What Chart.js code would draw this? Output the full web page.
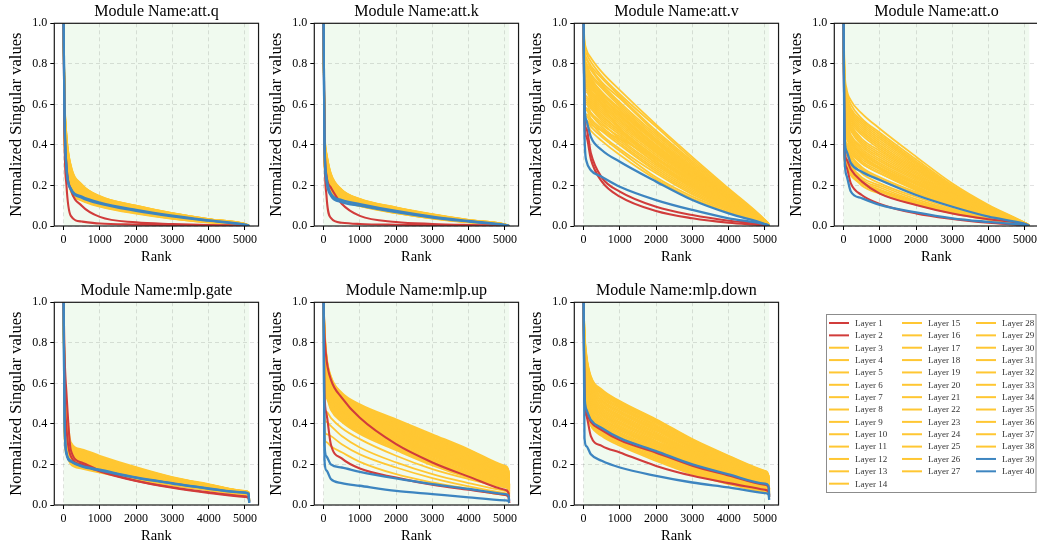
<!DOCTYPE html>
<html><head><meta charset="utf-8">
<script src="https://cdn.jsdelivr.net/npm/chart.js@4.4.0/dist/chart.umd.min.js"></script>
<style>
html,body{margin:0;padding:0;background:#fff;overflow:hidden;width:1037px;height:545px;}
canvas{position:absolute;}
</style></head><body>
<script>
// ---------------- data ----------------
const RANKS = [0, 25, 80, 200, 500, 1000, 2000, 3000, 4000, 5000, 5100, 5119];
const X_TICKS = [0, 1000, 2000, 3000, 4000, 5000];
const Y_TICKS = [0, 0.2, 0.4, 0.6, 0.8, 1.0];
const SPAN = [0, 5120];
const MODULE_NAMES = ['att.q', 'att.k', 'att.v', 'att.o', 'mlp.gate', 'mlp.up', 'mlp.down'];
const LAYER_LABELS = Array.from({length: 40}, (_, i) => 'Layer ' + (i + 1));

// att.q
const ATT_Q_RED = [
 [1,.45,.2,.05,.022,.012,.007,.004,.002,.001,0,0],
 [1,.55,.3,.18,.1,.045,.018,.01,.005,.002,.001,0]];
const ATT_Q_BLUE = [
 [1,.55,.28,.18,.14,.11,.075,.048,.026,.006,.002,0],
 [1,.57,.29,.185,.145,.115,.079,.051,.028,.007,.002,0]];
const ATT_Q_YELLOW = [
 [1,.42,.27,.17,.125,.096,.061,.035,.017,.004,.002,0],
 [1,.44,.28,.175,.128,.098,.063,.037,.018,.004,.002,0],
 [1,.45,.29,.18,.13,.1,.065,.038,.019,.005,.002,0],
 [1,.47,.30,.185,.133,.102,.066,.039,.02,.005,.002,0],
 [1,.48,.31,.19,.136,.104,.068,.04,.021,.005,.002,0],
 [1,.49,.31,.195,.14,.106,.069,.041,.021,.005,.002,0],
 [1,.5,.32,.2,.143,.108,.071,.042,.022,.006,.002,0],
 [1,.51,.33,.205,.146,.11,.072,.043,.023,.006,.002,0],
 [1,.52,.33,.21,.149,.112,.074,.044,.023,.006,.002,0],
 [1,.53,.34,.213,.152,.114,.075,.045,.024,.006,.002,0],
 [1,.54,.35,.217,.155,.116,.077,.046,.025,.006,.002,0],
 [1,.55,.35,.22,.158,.118,.078,.047,.025,.007,.002,0],
 [1,.55,.36,.224,.16,.12,.08,.048,.026,.007,.002,0],
 [1,.56,.36,.228,.163,.122,.081,.049,.026,.007,.002,0],
 [1,.57,.37,.232,.166,.124,.083,.05,.027,.007,.002,0],
 [1,.57,.37,.236,.169,.126,.084,.051,.027,.007,.002,0],
 [1,.58,.38,.24,.172,.128,.086,.052,.028,.008,.002,0],
 [1,.59,.38,.244,.175,.13,.087,.053,.028,.008,.002,0],
 [1,.59,.39,.248,.177,.131,.088,.054,.029,.008,.002,0],
 [1,.6,.39,.252,.18,.133,.089,.055,.029,.008,.002,0],
 [1,.6,.4,.256,.182,.135,.09,.056,.03,.008,.002,0],
 [1,.61,.4,.26,.185,.136,.091,.057,.03,.008,.002,0],
 [1,.61,.41,.264,.187,.138,.092,.058,.031,.009,.002,0],
 [1,.62,.41,.268,.19,.139,.093,.058,.031,.009,.002,0],
 [1,.62,.42,.272,.192,.14,.094,.059,.032,.009,.002,0],
 [1,.63,.42,.276,.194,.141,.095,.06,.032,.009,.002,0],
 [1,.63,.43,.28,.196,.142,.096,.06,.032,.009,.002,0],
 [1,.64,.43,.284,.198,.143,.097,.061,.033,.009,.002,0],
 [1,.64,.44,.288,.2,.144,.098,.062,.033,.01,.002,0],
 [1,.65,.44,.292,.202,.145,.099,.062,.034,.01,.002,0],
 [1,.65,.45,.296,.204,.146,.1,.063,.034,.01,.002,0],
 [1,.66,.45,.3,.206,.148,.1,.063,.034,.01,.002,0],
 [1,.5,.36,.25,.17,.115,.07,.04,.02,.005,.002,0],
 [1,.58,.34,.21,.16,.125,.085,.052,.027,.007,.002,0],
 [1,.47,.33,.235,.175,.13,.08,.045,.022,.006,.002,0],
 [1,.62,.38,.23,.15,.105,.07,.043,.022,.006,.002,0]];

// att.k
const ATT_K_RED = [
 [1,.4,.15,.04,.016,.01,.006,.004,.002,.001,0,0],
 [1,.45,.25,.19,.11,.05,.02,.01,.005,.002,.001,0]];
const ATT_K_BLUE = [
 [1,.42,.24,.16,.128,.108,.074,.046,.025,.005,.001,0],
 [1,.4,.22,.15,.118,.1,.068,.042,.022,.004,.001,0]];
const ATT_K_YELLOW = [
 [1,.30,.24,.16,.125,.098,.063,.037,.018,.004,.001,0],
 [1,.31,.244,.163,.127,.099,.064,.038,.018,.004,.001,0],
 [1,.31,.247,.166,.128,.1,.065,.038,.019,.004,.001,0],
 [1,.32,.252,.17,.131,.102,.066,.039,.019,.004,.001,0],
 [1,.33,.256,.173,.132,.103,.067,.04,.02,.005,.001,0],
 [1,.33,.259,.176,.134,.104,.068,.04,.02,.005,.001,0],
 [1,.34,.263,.179,.135,.105,.069,.041,.02,.005,.001,0],
 [1,.35,.268,.183,.138,.106,.07,.042,.021,.005,.001,0],
 [1,.35,.271,.186,.139,.107,.071,.042,.021,.005,.001,0],
 [1,.36,.275,.189,.141,.108,.071,.043,.021,.005,.001,0],
 [1,.36,.278,.192,.143,.11,.072,.044,.022,.005,.001,0],
 [1,.37,.282,.195,.144,.111,.073,.044,.022,.005,.001,0],
 [1,.38,.287,.199,.146,.112,.074,.045,.023,.006,.001,0],
 [1,.38,.29,.202,.148,.113,.075,.046,.023,.006,.001,0],
 [1,.39,.294,.205,.15,.114,.076,.046,.023,.006,.001,0],
 [1,.4,.298,.208,.151,.115,.077,.047,.024,.006,.001,0],
 [1,.4,.302,.212,.154,.117,.078,.048,.024,.006,.001,0],
 [1,.41,.306,.215,.155,.118,.079,.049,.025,.006,.001,0],
 [1,.42,.31,.218,.157,.119,.08,.049,.025,.006,.001,0],
 [1,.42,.313,.221,.159,.12,.081,.05,.025,.006,.001,0],
 [1,.43,.318,.225,.161,.121,.082,.051,.026,.007,.001,0],
 [1,.44,.322,.228,.162,.122,.083,.051,.026,.007,.001,0],
 [1,.44,.325,.231,.164,.124,.084,.052,.027,.007,.001,0],
 [1,.45,.329,.234,.166,.125,.084,.053,.027,.007,.001,0],
 [1,.45,.332,.237,.167,.126,.085,.053,.027,.007,.001,0],
 [1,.46,.337,.241,.17,.127,.086,.054,.028,.007,.001,0],
 [1,.47,.341,.244,.171,.128,.087,.055,.028,.007,.001,0],
 [1,.47,.344,.247,.173,.129,.088,.055,.028,.007,.001,0],
 [1,.48,.348,.25,.175,.13,.089,.056,.029,.008,.001,0],
 [1,.49,.353,.254,.177,.132,.09,.057,.029,.008,.001,0],
 [1,.49,.356,.257,.178,.133,.091,.057,.03,.008,.001,0],
 [1,.5,.36,.26,.18,.134,.092,.058,.03,.008,.001,0],
 [1,.36,.3,.22,.14,.104,.068,.041,.02,.005,.001,0],
 [1,.44,.28,.18,.14,.115,.08,.05,.026,.006,.001,0],
 [1,.33,.27,.2,.16,.125,.083,.05,.025,.006,.001,0],
 [1,.46,.31,.2,.15,.108,.07,.043,.022,.005,.001,0]];

// att.v
const ATT_V_RED = [
 [1,.53,.48,.36,.24,.17,.095,.054,.026,.007,.002,0],
 [1,.5,.44,.33,.22,.145,.074,.038,.016,.003,.001,0]];
const ATT_V_BLUE = [
 [1,.6,.52,.44,.375,.317,.219,.128,.062,.01,.003,0],
 [1,.45,.32,.275,.243,.194,.128,.079,.038,.008,.002,0]];
const ATT_V_YELLOW = [
 [1,.5,.5,.47,.42,.35,.23,.135,.068,.01,.004,0],
 [1,.52,.52,.49,.44,.37,.24,.145,.074,.011,.004,0],
 [1,.54,.54,.51,.45,.38,.26,.156,.08,.012,.004,0],
 [1,.56,.55,.52,.47,.4,.27,.164,.084,.013,.004,0],
 [1,.57,.57,.53,.48,.41,.28,.172,.089,.014,.005,0],
 [1,.59,.58,.55,.49,.42,.29,.18,.094,.014,.005,0],
 [1,.61,.6,.56,.51,.43,.3,.188,.098,.015,.005,0],
 [1,.62,.61,.58,.52,.45,.31,.197,.103,.016,.005,0],
 [1,.64,.62,.59,.53,.46,.32,.203,.107,.017,.005,0],
 [1,.65,.63,.6,.54,.47,.33,.209,.11,.017,.005,0],
 [1,.66,.64,.61,.55,.47,.335,.215,.114,.018,.006,0],
 [1,.67,.66,.62,.56,.48,.34,.221,.117,.018,.006,0],
 [1,.68,.67,.63,.57,.49,.35,.227,.121,.019,.006,0],
 [1,.7,.68,.64,.58,.5,.36,.233,.124,.02,.006,0],
 [1,.71,.69,.65,.59,.51,.365,.238,.127,.02,.006,0],
 [1,.71,.69,.66,.6,.52,.37,.242,.129,.02,.006,0],
 [1,.72,.7,.66,.6,.52,.376,.246,.131,.021,.006,0],
 [1,.73,.71,.67,.61,.53,.38,.25,.134,.021,.007,0],
 [1,.74,.71,.68,.62,.54,.387,.254,.136,.022,.007,0],
 [1,.75,.72,.69,.62,.54,.39,.258,.138,.022,.007,0],
 [1,.75,.73,.69,.63,.55,.397,.262,.141,.022,.007,0],
 [1,.76,.74,.7,.64,.55,.4,.266,.143,.023,.007,0],
 [1,.77,.74,.71,.64,.56,.41,.27,.145,.023,.007,0],
 [1,.78,.75,.71,.65,.57,.414,.274,.148,.024,.007,0],
 [1,.79,.76,.72,.66,.57,.42,.279,.15,.024,.007,0],
 [1,.8,.77,.73,.66,.58,.424,.283,.152,.024,.008,0],
 [1,.81,.78,.74,.68,.59,.43,.289,.156,.025,.008,0],
 [1,.82,.79,.75,.69,.6,.44,.295,.159,.026,.008,0],
 [1,.84,.8,.77,.7,.61,.45,.303,.164,.026,.008,0],
 [1,.85,.82,.78,.71,.63,.46,.311,.169,.027,.008,0],
 [1,.87,.83,.79,.73,.64,.47,.32,.173,.028,.009,0],
 [1,.89,.85,.81,.74,.65,.49,.33,.179,.029,.009,0],
 [1,.92,.87,.83,.76,.67,.5,.34,.185,.03,.009,0],
 [1,.55,.52,.5,.47,.43,.33,.23,.13,.02,.006,0],
 [1,.85,.8,.72,.6,.48,.32,.2,.1,.015,.005,0],
 [1,.6,.58,.55,.5,.44,.31,.19,.095,.015,.005,0]];

// att.o
const ATT_O_RED = [
 [1,.4,.33,.28,.22,.16,.104,.062,.033,.01,.003,0],
 [1,.36,.29,.21,.153,.109,.062,.035,.016,.003,.001,0]];
const ATT_O_BLUE = [
 [1,.45,.37,.31,.268,.227,.153,.095,.046,.01,.003,0],
 [1,.35,.25,.17,.137,.104,.067,.038,.02,.005,.002,0]];
const ATT_O_YELLOW = [
 [1,.32,.3,.26,.2,.16,.105,.062,.03,.005,.002,0],
 [1,.34,.32,.27,.21,.17,.11,.068,.033,.005,.002,0],
 [1,.36,.33,.29,.23,.19,.124,.074,.036,.006,.002,0],
 [1,.38,.35,.3,.24,.2,.133,.08,.039,.006,.002,0],
 [1,.39,.36,.32,.26,.21,.143,.086,.042,.007,.002,0],
 [1,.42,.38,.34,.28,.23,.157,.095,.046,.007,.002,0],
 [1,.44,.4,.35,.29,.24,.167,.1,.049,.008,.003,0],
 [1,.46,.41,.37,.31,.26,.176,.106,.052,.008,.003,0],
 [1,.47,.43,.38,.32,.27,.183,.111,.054,.009,.003,0],
 [1,.49,.44,.39,.33,.28,.19,.115,.057,.009,.003,0],
 [1,.5,.45,.4,.34,.285,.197,.12,.059,.009,.003,0],
 [1,.51,.46,.41,.35,.29,.205,.124,.061,.01,.003,0],
 [1,.53,.47,.42,.36,.3,.212,.129,.063,.01,.003,0],
 [1,.54,.48,.43,.37,.31,.219,.133,.066,.01,.003,0],
 [1,.55,.49,.44,.38,.32,.226,.137,.068,.011,.003,0],
 [1,.57,.51,.45,.39,.33,.233,.142,.07,.011,.003,0],
 [1,.58,.52,.47,.4,.34,.24,.146,.072,.011,.003,0],
 [1,.6,.53,.48,.41,.35,.247,.151,.074,.012,.004,0],
 [1,.61,.54,.49,.42,.36,.254,.155,.077,.012,.004,0],
 [1,.62,.55,.5,.43,.37,.261,.16,.079,.012,.004,0],
 [1,.64,.56,.51,.45,.38,.269,.164,.081,.013,.004,0],
 [1,.65,.57,.52,.46,.39,.276,.169,.083,.013,.004,0],
 [1,.67,.59,.53,.47,.4,.283,.173,.086,.013,.004,0],
 [1,.68,.6,.54,.48,.41,.29,.177,.088,.014,.004,0],
 [1,.69,.61,.55,.49,.42,.297,.182,.09,.014,.004,0],
 [1,.71,.62,.56,.5,.43,.304,.186,.092,.014,.004,0],
 [1,.72,.63,.57,.51,.44,.311,.191,.094,.015,.005,0],
 [1,.73,.64,.58,.52,.45,.318,.195,.097,.015,.005,0],
 [1,.75,.66,.6,.53,.46,.328,.201,.1,.015,.005,0],
 [1,.78,.68,.62,.556,.48,.342,.21,.104,.016,.005,0],
 [1,.34,.3,.25,.21,.175,.115,.07,.034,.006,.002,0],
 [1,.36,.31,.27,.22,.18,.12,.072,.035,.006,.002,0],
 [1,.5,.4,.33,.28,.23,.16,.1,.05,.008,.003,0],
 [1,.6,.5,.42,.36,.3,.21,.13,.065,.01,.003,0],
 [1,.45,.4,.36,.31,.26,.18,.11,.055,.009,.003,0],
 [1,.55,.48,.42,.35,.28,.19,.115,.056,.009,.003,0]];

// mlp.gate
const MLP_GATE_RED = [
 [1,.75,.55,.27,.21,.17,.12,.088,.063,.043,.037,.02],
 [1,.6,.38,.24,.2,.165,.118,.085,.06,.04,.034,.015]];
const MLP_GATE_BLUE = [
 [1,.45,.26,.218,.193,.174,.136,.108,.082,.062,.056,.012],
 [1,.43,.25,.214,.19,.171,.134,.106,.08,.06,.054,.01]];
const MLP_GATE_YELLOW = [
 [1,.35,.25,.2,.18,.16,.125,.097,.074,.052,.046,.015],
 [1,.36,.26,.204,.184,.163,.127,.099,.075,.053,.047,.016],
 [1,.38,.27,.209,.188,.167,.13,.1,.076,.053,.047,.016],
 [1,.39,.27,.213,.191,.17,.132,.102,.077,.054,.048,.017],
 [1,.4,.28,.218,.195,.173,.135,.104,.079,.055,.049,.017],
 [1,.42,.29,.224,.201,.178,.139,.106,.08,.056,.05,.018],
 [1,.44,.3,.229,.205,.182,.141,.108,.082,.057,.051,.019],
 [1,.45,.31,.233,.209,.185,.144,.109,.083,.057,.051,.019],
 [1,.46,.32,.236,.211,.187,.145,.111,.084,.058,.052,.02],
 [1,.47,.32,.24,.214,.19,.147,.112,.084,.058,.052,.02],
 [1,.48,.33,.243,.217,.192,.149,.113,.085,.059,.053,.021],
 [1,.49,.33,.246,.22,.195,.151,.114,.086,.06,.054,.021],
 [1,.5,.34,.25,.223,.197,.153,.115,.087,.06,.054,.022],
 [1,.51,.35,.253,.226,.2,.155,.117,.088,.061,.055,.022],
 [1,.52,.35,.256,.228,.202,.157,.118,.089,.061,.055,.023],
 [1,.53,.36,.259,.231,.205,.158,.119,.09,.062,.056,.023],
 [1,.54,.36,.263,.234,.207,.16,.12,.091,.062,.056,.024],
 [1,.55,.37,.266,.237,.21,.162,.122,.091,.063,.057,.024],
 [1,.56,.38,.269,.24,.212,.164,.123,.092,.063,.057,.024],
 [1,.57,.38,.273,.243,.215,.166,.124,.093,.064,.058,.025],
 [1,.58,.39,.276,.246,.217,.168,.125,.094,.064,.058,.025],
 [1,.59,.39,.279,.248,.22,.17,.127,.095,.065,.059,.026],
 [1,.6,.4,.283,.251,.222,.172,.128,.096,.066,.06,.026],
 [1,.61,.41,.286,.254,.225,.173,.129,.097,.066,.06,.027],
 [1,.62,.41,.289,.257,.227,.175,.13,.097,.067,.061,.027],
 [1,.63,.42,.292,.26,.23,.177,.131,.098,.067,.061,.028],
 [1,.64,.42,.296,.263,.232,.179,.133,.099,.068,.062,.028],
 [1,.65,.43,.299,.266,.235,.181,.134,.1,.068,.062,.029],
 [1,.66,.44,.303,.269,.238,.183,.136,.101,.069,.063,.029],
 [1,.68,.5,.31,.275,.243,.187,.138,.103,.07,.064,.03],
 [1,.55,.3,.22,.2,.175,.135,.1,.077,.053,.047,.016],
 [1,.4,.3,.26,.235,.205,.16,.12,.09,.062,.056,.022],
 [1,.6,.38,.25,.22,.19,.145,.11,.082,.057,.051,.018],
 [1,.45,.33,.27,.25,.225,.18,.135,.1,.068,.062,.025],
 [1,.5,.28,.21,.19,.17,.13,.098,.074,.052,.046,.015],
 [1,.62,.4,.29,.26,.23,.17,.125,.093,.064,.058,.02]];

// mlp.up
const MLP_UP_RED = [
 [1,.85,.72,.62,.53,.43,.3,.21,.14,.075,.06,.01],
 [1,.55,.45,.3,.23,.18,.135,.1,.075,.05,.04,.01]];
const MLP_UP_BLUE = [
 [1,.3,.24,.2,.185,.164,.131,.103,.079,.054,.046,.02],
 [1,.22,.17,.128,.108,.095,.07,.054,.038,.023,.019,.01]];
const MLP_UP_YELLOW = [
 [1,.58,.53,.47,.41,.35,.27,.195,.135,.09,.076,.04],
 [1,.59,.54,.477,.416,.356,.276,.201,.141,.094,.08,.042],
 [1,.6,.55,.483,.422,.362,.282,.207,.146,.098,.083,.045],
 [1,.62,.56,.49,.427,.368,.288,.213,.152,.102,.087,.047],
 [1,.63,.56,.497,.433,.374,.294,.22,.157,.106,.09,.05],
 [1,.64,.57,.503,.439,.379,.301,.226,.163,.111,.095,.052],
 [1,.65,.58,.51,.445,.385,.307,.232,.169,.115,.099,.054],
 [1,.66,.59,.516,.45,.391,.313,.238,.174,.119,.102,.057],
 [1,.67,.6,.521,.455,.396,.317,.243,.178,.122,.105,.059],
 [1,.68,.6,.526,.459,.4,.322,.247,.183,.125,.108,.06],
 [1,.69,.61,.531,.463,.404,.327,.252,.187,.128,.11,.062],
 [1,.7,.61,.536,.468,.409,.331,.257,.191,.131,.113,.064],
 [1,.71,.62,.541,.472,.413,.336,.261,.195,.134,.116,.066],
 [1,.72,.63,.546,.476,.418,.34,.266,.199,.137,.119,.068],
 [1,.73,.63,.551,.481,.422,.345,.27,.204,.14,.121,.069],
 [1,.74,.64,.556,.485,.426,.35,.275,.208,.144,.125,.071],
 [1,.75,.65,.561,.489,.431,.354,.28,.212,.147,.128,.073],
 [1,.75,.65,.566,.494,.435,.359,.284,.216,.15,.13,.075],
 [1,.76,.66,.571,.498,.44,.363,.289,.22,.153,.133,.077],
 [1,.77,.66,.576,.502,.444,.368,.294,.225,.156,.136,.078],
 [1,.78,.67,.581,.506,.448,.373,.298,.229,.159,.139,.08],
 [1,.79,.68,.586,.511,.453,.377,.303,.233,.162,.141,.082],
 [1,.8,.68,.591,.515,.457,.382,.307,.237,.165,.144,.084],
 [1,.81,.69,.596,.519,.462,.386,.312,.241,.168,.147,.086],
 [1,.82,.7,.601,.524,.466,.391,.317,.246,.171,.15,.087],
 [1,.83,.7,.606,.528,.471,.395,.321,.25,.174,.152,.089],
 [1,.84,.71,.611,.532,.475,.4,.326,.254,.178,.156,.091],
 [1,.84,.71,.616,.537,.479,.405,.331,.258,.181,.159,.093],
 [1,.85,.72,.621,.541,.484,.409,.335,.262,.184,.162,.095],
 [1,.86,.73,.626,.545,.488,.414,.34,.267,.187,.165,.096],
 [1,.87,.73,.631,.55,.493,.418,.344,.271,.19,.168,.098],
 [1,.88,.74,.636,.554,.497,.423,.349,.275,.193,.17,.1],
 [1,.48,.46,.43,.38,.325,.243,.177,.128,.087,.074,.04],
 [1,.43,.41,.39,.34,.284,.21,.152,.108,.07,.06,.035],
 [1,.37,.35,.34,.3,.25,.185,.133,.092,.059,.05,.03],
 [1,.34,.31,.29,.26,.213,.152,.111,.079,.049,.042,.025]];

// mlp.down
const MLP_DOWN_RED = [
 [1,.52,.44,.34,.292,.259,.193,.144,.108,.075,.066,.05],
 [1,.54,.46,.41,.37,.32,.258,.194,.146,.1,.088,.04]];
const MLP_DOWN_BLUE = [
 [1,.55,.47,.42,.38,.33,.266,.2,.151,.105,.095,.04],
 [1,.33,.29,.25,.218,.185,.144,.111,.087,.059,.052,.025]];
const MLP_DOWN_YELLOW = [
 [1,.5,.45,.39,.34,.292,.218,.152,.103,.062,.053,.03],
 [1,.51,.46,.397,.347,.299,.224,.157,.107,.065,.056,.032],
 [1,.52,.47,.405,.354,.305,.23,.162,.111,.068,.058,.033],
 [1,.53,.48,.412,.361,.312,.236,.168,.116,.072,.062,.035],
 [1,.54,.48,.42,.368,.319,.243,.173,.12,.075,.064,.036],
 [1,.55,.49,.427,.375,.325,.249,.178,.124,.078,.067,.038],
 [1,.56,.5,.434,.381,.332,.255,.183,.128,.081,.07,.039],
 [1,.58,.51,.442,.388,.338,.261,.188,.132,.084,.072,.041],
 [1,.59,.52,.449,.395,.345,.267,.194,.137,.088,.076,.042],
 [1,.6,.53,.456,.402,.352,.273,.199,.141,.091,.078,.044],
 [1,.61,.54,.464,.409,.358,.28,.204,.145,.094,.081,.045],
 [1,.62,.55,.471,.416,.365,.286,.209,.149,.097,.084,.047],
 [1,.63,.55,.479,.423,.372,.292,.214,.153,.1,.086,.048],
 [1,.64,.56,.486,.43,.378,.298,.219,.158,.104,.09,.05],
 [1,.65,.57,.493,.437,.385,.304,.225,.162,.107,.092,.051],
 [1,.66,.58,.501,.444,.391,.31,.23,.166,.11,.095,.053],
 [1,.67,.59,.508,.45,.398,.316,.235,.17,.113,.097,.054],
 [1,.68,.6,.515,.457,.405,.323,.24,.174,.117,.101,.056],
 [1,.69,.61,.523,.464,.411,.329,.245,.179,.12,.104,.057],
 [1,.71,.62,.53,.471,.418,.335,.251,.183,.123,.106,.059],
 [1,.72,.62,.538,.478,.425,.341,.256,.187,.126,.109,.06],
 [1,.73,.63,.545,.485,.431,.347,.261,.191,.129,.111,.062],
 [1,.74,.64,.552,.492,.438,.353,.266,.195,.133,.115,.063],
 [1,.75,.65,.56,.499,.444,.359,.271,.2,.136,.117,.065],
 [1,.76,.66,.567,.506,.451,.366,.277,.204,.139,.12,.066],
 [1,.77,.67,.575,.513,.458,.372,.282,.208,.142,.123,.068],
 [1,.78,.68,.582,.519,.464,.378,.287,.212,.145,.125,.069],
 [1,.79,.68,.589,.526,.471,.384,.292,.216,.149,.129,.071],
 [1,.8,.69,.597,.533,.478,.39,.297,.221,.152,.131,.072],
 [1,.81,.7,.604,.54,.484,.396,.303,.225,.155,.134,.074],
 [1,.82,.71,.611,.547,.491,.403,.308,.229,.158,.137,.075],
 [1,.83,.72,.616,.552,.495,.407,.311,.232,.16,.138,.076],
 [1,.84,.72,.621,.556,.5,.411,.315,.235,.163,.141,.077],
 [1,.85,.73,.626,.561,.504,.415,.318,.237,.165,.143,.078],
 [1,.85,.73,.631,.565,.509,.419,.322,.24,.167,.145,.079],
 [1,.86,.74,.636,.57,.513,.423,.325,.243,.169,.146,.08]];

// ---------------- styling ----------------
const SERIF = "'Liberation Serif','Times New Roman',serif";
const RED = '#d13c3b';
const YELLOW = '#ffc733';
const BLUE = '#3d85c0';
const GREEN_BG = 'rgb(240,250,239)';
const GRID = 'rgba(0,0,0,0.13)';

Chart.defaults.font.family = SERIF;
Chart.defaults.color = '#000';

const MODULES = [
  [ATT_Q_RED, ATT_Q_YELLOW, ATT_Q_BLUE],
  [ATT_K_RED, ATT_K_YELLOW, ATT_K_BLUE],
  [ATT_V_RED, ATT_V_YELLOW, ATT_V_BLUE],
  [ATT_O_RED, ATT_O_YELLOW, ATT_O_BLUE],
  [MLP_GATE_RED, MLP_GATE_YELLOW, MLP_GATE_BLUE],
  [MLP_UP_RED, MLP_UP_YELLOW, MLP_UP_BLUE],
  [MLP_DOWN_RED, MLP_DOWN_YELLOW, MLP_DOWN_BLUE]
];

const panelPlugin = {
  id: 'panel',
  beforeDraw(chart) {
    const {ctx, chartArea: a, scales: {x}} = chart;
    const x0 = x.getPixelForValue(SPAN[0]), x1 = x.getPixelForValue(SPAN[1]);
    ctx.save();
    ctx.fillStyle = GREEN_BG;
    ctx.fillRect(x0, a.top, x1 - x0, a.bottom - a.top);
    ctx.restore();
  },
  afterDraw(chart) {
    const {ctx, chartArea: a} = chart;
    ctx.save();
    ctx.strokeStyle = '#1a1a1a';
    ctx.lineWidth = 1.2;
    ctx.strokeRect(a.left, a.top, a.right - a.left, a.bottom - a.top);
    ctx.restore();
  }
};

function makeDatasets(red, yellow, blue) {
  const rows = [];
  red.forEach(r => rows.push({row: r, color: RED, w: 2.1, order: 2}));
  yellow.forEach(r => rows.push({row: r, color: YELLOW, w: 1.8, order: 3}));
  blue.forEach(r => rows.push({row: r, color: BLUE, w: 2.3, order: 1}));
  return rows.map((d, i) => ({
    label: LAYER_LABELS[i],
    data: RANKS.map((rk, j) => ({x: rk, y: d.row[j]})),
    borderColor: d.color,
    backgroundColor: d.color,
    borderWidth: d.w,
    pointRadius: 0,
    fill: false,
    cubicInterpolationMode: 'monotone',
    order: d.order
  }));
}

const ROW_TOP = [0, 279.4];
MODULE_NAMES.forEach((name, k) => {
  const col = k % 4, row = Math.floor(k / 4);
  const cv = document.createElement('canvas');
  cv.width = 260; cv.height = 266;
  cv.style.left = (col * 260) + 'px';
  cv.style.top = ROW_TOP[row] + 'px';
  cv.style.width = '260px'; cv.style.height = '266px';
  document.body.appendChild(cv);
  const [red, yellow, blue] = MODULES[k];
  new Chart(cv, {
    type: 'line',
    data: {datasets: makeDatasets(red, yellow, blue)},
    plugins: [panelPlugin],
    options: {
      responsive: false, animation: false, devicePixelRatio: 1,
      layout: {padding: {left: 6.8, right: 0.7, top: 0, bottom: 0}},
      plugins: {
        legend: {display: false},
        tooltip: {enabled: false},
        title: {display: true, fullSize: false, text: 'Module Name:' + name, color: '#000',
          font: {family: SERIF, size: 16, weight: 'normal'}, padding: {top: 2, bottom: 2.1}}
      },
      scales: {
        x: {
          type: 'linear', min: -256, max: 5376,
          afterBuildTicks: s => { s.ticks = X_TICKS.map(v => ({value: v})); },
          afterFit: s => { s.height = 40; },
          ticks: {color: '#000', font: {family: SERIF, size: 12}, padding: 3, maxRotation: 0, autoSkip: false,
            callback: v => String(v)},
          grid: {color: GRID, lineWidth: 0.9, tickLength: 4, tickColor: '#000', tickWidth: 1, tickBorderDash: []},
          border: {display: false, dash: [4, 3]},
          title: {display: true, text: 'Rank', color: '#000', font: {family: SERIF, size: 14.5}, padding: 0}
        },
        y: {
          type: 'linear', min: 0, max: 1,
          afterBuildTicks: s => { s.ticks = Y_TICKS.map(v => ({value: v})); },
          afterFit: s => { s.width = 47.5; },
          ticks: {color: '#000', font: {family: SERIF, size: 12}, padding: 3, autoSkip: false,
            callback: v => Number(v).toFixed(1)},
          grid: {color: GRID, lineWidth: 0.9, tickLength: 4, tickColor: '#000', tickWidth: 1, tickBorderDash: []},
          border: {display: false, dash: [4, 3]},
          title: {display: true, text: 'Normalized Singular values', color: '#000', font: {family: SERIF, size: 16.5}, padding: 0}
        }
      }
    }
  });
});

// ---------------- legend ----------------
const LEGEND_COLS = [14, 13, 13];
const legendPlugin = {
  id: 'layerLegend',
  afterDraw(chart) {
    const ctx = chart.ctx;
    const ds = chart.data.datasets;
    ctx.save();
    ctx.fillStyle = '#fff';
    ctx.fillRect(6, 9.3, 210, 178.4);
    ctx.strokeStyle = '#8c8c8c';
    ctx.lineWidth = 1;
    ctx.strokeRect(6.5, 9.5, 209.5, 178);
    ctx.font = "9px " + SERIF;
    ctx.textBaseline = 'middle';
    ctx.textAlign = 'left';
    const colLine = [9, 82, 156], colText = [35, 108, 182];
    let idx = 0;
    LEGEND_COLS.forEach((n, c) => {
      for (let r = 0; r < n && idx < ds.length; r++, idx++) {
        const y = 18 + r * 12.36;
        ctx.strokeStyle = ds[idx].borderColor;
        ctx.lineWidth = 2;
        ctx.beginPath();
        ctx.moveTo(colLine[c], y);
        ctx.lineTo(colLine[c] + 20, y);
        ctx.stroke();
        ctx.fillStyle = '#333';
        ctx.fillText(ds[idx].label, colText[c], y + 0.5);
      }
    });
    ctx.restore();
  }
};
const lc = document.createElement('canvas');
lc.width = 217; lc.height = 195;
lc.style.left = '820px'; lc.style.top = '305px';
lc.style.width = '217px'; lc.style.height = '195px';
document.body.appendChild(lc);
new Chart(lc, {
  type: 'line',
  data: {datasets: LAYER_LABELS.map((lab, i) => ({
    label: lab, data: [],
    borderColor: i < 2 ? RED : (i < 38 ? YELLOW : BLUE)
  }))},
  plugins: [legendPlugin],
  options: {
    responsive: false, animation: false, devicePixelRatio: 1,
    plugins: {legend: {display: false}, tooltip: {enabled: false}},
    scales: {x: {display: false}, y: {display: false}}
  }
});
</script>
</body></html>
